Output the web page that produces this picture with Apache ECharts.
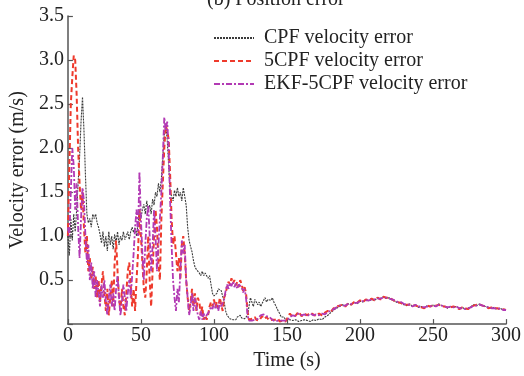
<!DOCTYPE html>
<html>
<head>
<meta charset="utf-8">
<script src="https://cdn.jsdelivr.net/npm/echarts@6/dist/echarts.min.js"></script>
<style>html,body{margin:0;padding:0;background:#fff}#c{width:524px;height:376px}</style>
</head>
<body>
<div id="c"></div>
<script>
const titleText = "(b) Position error";
const seriesNames = ["CPF velocity error", "5CPF velocity error", "EKF-5CPF velocity error"];
const xTicks = [0, 50, 100, 150, 200, 250, 300];
const yTicks = [0.5, 1.0, 1.5, 2.0, 2.5, 3.0, 3.5];

const time = [
0,1,2,3,4,5,6,7,8,9,
10,11,12,13,14,15,16,17,18,19,
20,21,22,23,24,25,26,27,28,29,
30,31,32,33,34,35,36,37,38,39,
40,41,42,43,44,45,46,47,48,49,
50,51,52,53,54,55,56,57,58,59,
60,61,62,63,64,65,66,67,68,69,
70,71,72,73,74,75,76,77,78,79,
80,81,82,83,84,85,86,87,88,89,
90,91,92,93,94,95,96,97,98,99,
100,101,102,103,104,105,106,107,108,109,
110,111,112,113,114,115,116,117,118,119,
120,121,122,123,124,125,126,127,128,129,
130,131,132,133,134,135,136,137,138,139,
140,141,142,143,144,145,146,147,148,149,150,
152,154,156,158,160,162,164,166,168,170,
172,174,176,178,180,182,184,186,188,190,
192,194,196,198,200,202,204,206,208,210,
212,214,216,218,220,222,224,226,228,230,
232,234,236,238,240,242,244,246,248,250,
252,254,256,258,260,262,264,266,268,270,
272,274,276,278,280,282,284,286,288,290,
292,294,296,298,300
];

const cpf = [
1.0,0.78,1.2,0.95,1.25,1.05,1.3,1.6,1.9,2.3,
2.58,2.2,1.7,1.25,1.15,1.2,1.1,1.25,1.2,1.25,
1.15,1.1,1.02,0.92,1.05,0.88,1.0,0.83,1.05,0.9,
1.0,0.85,1.02,0.93,1.05,0.9,1.0,0.95,1.05,0.96,
1.0,1.05,0.96,1.05,1.1,1.04,1.1,1.0,1.15,1.3,
1.2,1.3,1.36,1.25,1.4,1.3,1.35,1.25,1.42,1.35,
1.5,1.45,1.6,1.5,1.65,1.9,2.15,2.25,2.1,1.8,
1.5,1.45,1.4,1.52,1.45,1.55,1.45,1.5,1.4,1.55,
1.45,1.35,1.1,0.95,0.88,0.82,0.72,0.65,0.62,0.6,
0.58,0.55,0.6,0.55,0.58,0.55,0.52,0.55,0.45,0.35,
0.32,0.3,0.35,0.4,0.42,0.38,0.4,0.25,0.15,0.1,
0.08,0.06,0.08,0.05,0.07,0.05,0.08,0.06,0.1,0.07,
0.09,0.06,0.08,0.1,0.12,0.3,0.25,0.2,0.28,0.3,
0.22,0.25,0.2,0.18,0.27,0.3,0.25,0.28,0.3,0.27,
0.3,0.25,0.22,0.2,0.15,0.12,0.08,0.06,0.08,0.05,0.06,
0.05,0.04,0.05,0.03,0.04,0.05,0.04,0.03,0.05,0.04,
0.06,0.05,0.08,0.1,0.13,0.16,0.18,0.2,0.22,0.21,
0.23,0.22,0.25,0.23,0.26,0.25,0.28,0.26,0.28,0.27,
0.3,0.29,0.31,0.29,0.3,0.27,0.26,0.24,0.25,0.22,
0.21,0.23,0.2,0.22,0.19,0.2,0.18,0.21,0.2,0.22,
0.2,0.23,0.21,0.2,0.18,0.2,0.19,0.2,0.18,0.19,
0.17,0.18,0.2,0.22,0.21,0.23,0.21,0.2,0.19,0.18,
0.19,0.17,0.18,0.16,0.17
];

const cpf5 = [
1.0,1.8,2.5,2.8,3.05,3.0,2.6,2.0,1.6,1.3,
1.5,1.1,0.8,1.0,0.6,0.75,0.5,0.65,0.4,0.55,
0.3,0.5,0.25,0.45,0.6,0.35,0.15,0.4,0.1,0.3,
0.5,0.2,0.7,0.95,0.6,0.3,0.15,0.4,0.2,0.1,
0.35,0.6,0.7,0.45,0.2,0.4,0.15,0.5,0.8,1.3,
1.0,0.7,0.4,0.3,0.6,1.0,0.5,0.2,0.6,1.0,
1.3,1.1,0.7,0.5,1.2,1.6,2.0,2.25,2.2,2.1,
1.7,1.2,0.9,1.0,0.8,0.6,0.75,0.5,0.9,1.0,
0.8,0.5,0.3,0.15,0.25,0.4,0.2,0.35,0.15,0.3,
0.25,0.1,0.2,0.05,0.1,0.05,0.1,0.2,0.25,0.2,
0.28,0.2,0.25,0.18,0.3,0.22,0.15,0.3,0.35,0.42,
0.48,0.45,0.52,0.46,0.5,0.44,0.48,0.42,0.5,0.45,
0.38,0.42,0.35,0.15,0.05,0.03,0.06,0.04,0.08,0.05,
0.07,0.04,0.06,0.09,0.06,0.05,0.08,0.06,0.04,0.06,
0.05,0.03,0.05,0.04,0.06,0.03,0.05,0.04,0.06,0.03,0.05,
0.12,0.08,0.1,0.14,0.09,0.12,0.1,0.13,0.11,0.09,
0.12,0.1,0.13,0.15,0.14,0.18,0.2,0.21,0.22,0.2,
0.24,0.22,0.25,0.24,0.27,0.25,0.28,0.27,0.29,0.27,
0.3,0.28,0.31,0.3,0.3,0.28,0.26,0.25,0.24,0.22,
0.22,0.22,0.21,0.21,0.2,0.19,0.18,0.21,0.2,0.21,
0.21,0.22,0.2,0.2,0.19,0.19,0.2,0.19,0.17,0.19,
0.18,0.17,0.2,0.21,0.22,0.22,0.21,0.2,0.18,0.19,
0.18,0.18,0.17,0.17,0.16
];

const ekf5 = [
1.1,1.0,1.5,2.0,1.8,1.3,1.6,1.1,0.75,1.2,
1.55,1.4,1.0,0.7,0.9,0.5,0.7,0.4,0.6,0.3,
0.5,0.35,0.2,0.45,0.3,0.5,0.25,0.1,0.3,0.45,
0.2,0.35,0.15,0.4,0.55,0.3,0.1,0.25,0.45,0.3,
0.15,0.35,0.5,0.3,0.55,0.8,1.1,1.3,1.0,1.73,
1.2,0.8,0.5,0.9,1.2,1.35,1.0,0.6,0.9,1.3,
1.0,0.6,0.9,1.2,1.5,1.9,2.35,2.2,2.3,2.0,
1.4,0.9,0.5,0.3,0.15,0.4,0.25,0.6,0.95,0.8,
0.9,0.5,0.3,0.1,0.2,0.35,0.15,0.3,0.2,0.1,
0.05,0.15,0.05,0.12,0.06,0.1,0.08,0.15,0.2,0.17,
0.24,0.18,0.22,0.15,0.25,0.2,0.18,0.28,0.38,0.45,
0.4,0.47,0.43,0.48,0.42,0.46,0.4,0.45,0.47,0.42,
0.36,0.4,0.3,0.1,0.04,0.05,0.04,0.06,0.05,0.07,
0.06,0.08,0.1,0.09,0.11,0.1,0.09,0.1,0.08,0.06,
0.05,0.04,0.03,0.05,0.04,0.03,0.04,0.05,0.04,0.03,0.04,
0.08,0.1,0.09,0.12,0.1,0.11,0.09,0.12,0.1,0.11,
0.1,0.12,0.11,0.14,0.15,0.17,0.19,0.21,0.21,0.21,
0.23,0.23,0.24,0.24,0.26,0.26,0.27,0.27,0.28,0.28,
0.29,0.29,0.3,0.3,0.29,0.28,0.27,0.25,0.25,0.23,
0.22,0.22,0.2,0.22,0.2,0.2,0.19,0.2,0.2,0.21,
0.2,0.22,0.21,0.2,0.19,0.2,0.19,0.2,0.18,0.18,
0.17,0.18,0.19,0.21,0.21,0.22,0.21,0.2,0.19,0.18,
0.18,0.17,0.18,0.16,0.16
];

const pair = (vals) => time.map((t, i) => [t, vals[i]]);
const FONT = "Liberation Serif";
const axisColor = "#555";

const chart = echarts.init(document.getElementById('c'), null, {renderer: 'canvas'});
chart.setOption({
  animation: false,
  backgroundColor: '#fff',
  graphic: [{
    type: 'text', x: 207, y: 10,
    style: {text: titleText, font: '20px "Liberation Serif"', fill: '#222',
            textAlign: 'left', textVerticalAlign: 'bottom'}
  }],
  legend: {
    orient: 'vertical', left: 208, top: 23,
    itemWidth: 40, itemHeight: 12, itemGap: 3,
    itemStyle: {opacity: 0},
    textStyle: {fontFamily: FONT, fontSize: 20, color: '#222', lineHeight: 20, padding: [0,0,0,5]},
    data: seriesNames
  },
  grid: {left: 66, right: 18, top: 16, bottom: 51, containLabel: false},
  xAxis: {
    type: 'value', min: xTicks[0], max: xTicks[xTicks.length-1], interval: 50,
    name: 'Time (s)', nameLocation: 'middle', nameGap: 23,
    nameTextStyle: {fontFamily: FONT, fontSize: 20, color: '#222'},
    axisLine: {lineStyle: {color: axisColor, width: 1.5}},
    axisTick: {inside: true, length: 5, lineStyle: {color: axisColor, width: 1.2}},
    axisLabel: {fontFamily: FONT, fontSize: 20, color: '#222', margin: 2},
    splitLine: {show: false}
  },
  yAxis: {
    type: 'value', min: 0, max: yTicks[yTicks.length-1], interval: 0.5,
    name: 'Velocity error (m/s)', nameLocation: 'middle', nameGap: 38, nameRotate: 90,
    nameTextStyle: {fontFamily: FONT, fontSize: 20, color: '#222'},
    axisLine: {show: true, lineStyle: {color: axisColor, width: 1.5}},
    axisTick: {inside: true, length: 5, lineStyle: {color: axisColor, width: 1.2}},
    axisLabel: {fontFamily: FONT, fontSize: 20, color: '#222', margin: 4,
      formatter: v => (yTicks.indexOf(v) >= 0 ? v.toFixed(1) : '')},
    splitLine: {show: false}
  },
  series: [
    {name: seriesNames[0], type: 'line', data: pair(cpf), symbol: 'none',
     lineStyle: {color: '#3a3a3a', width: 1.1, type: [2, 1]}, itemStyle: {color: '#3a3a3a'}},
    {name: seriesNames[1], type: 'line', data: pair(cpf5), symbol: 'none',
     lineStyle: {color: '#ee3a2c', width: 2, type: [5, 3]}, itemStyle: {color: '#ee3a2c'}},
    {name: seriesNames[2], type: 'line', data: pair(ekf5), symbol: 'none',
     lineStyle: {color: '#b23ab4', width: 1.8, type: [6, 2, 2, 2]}, itemStyle: {color: '#b23ab4'}}
  ]
});
</script>
</body>
</html>
